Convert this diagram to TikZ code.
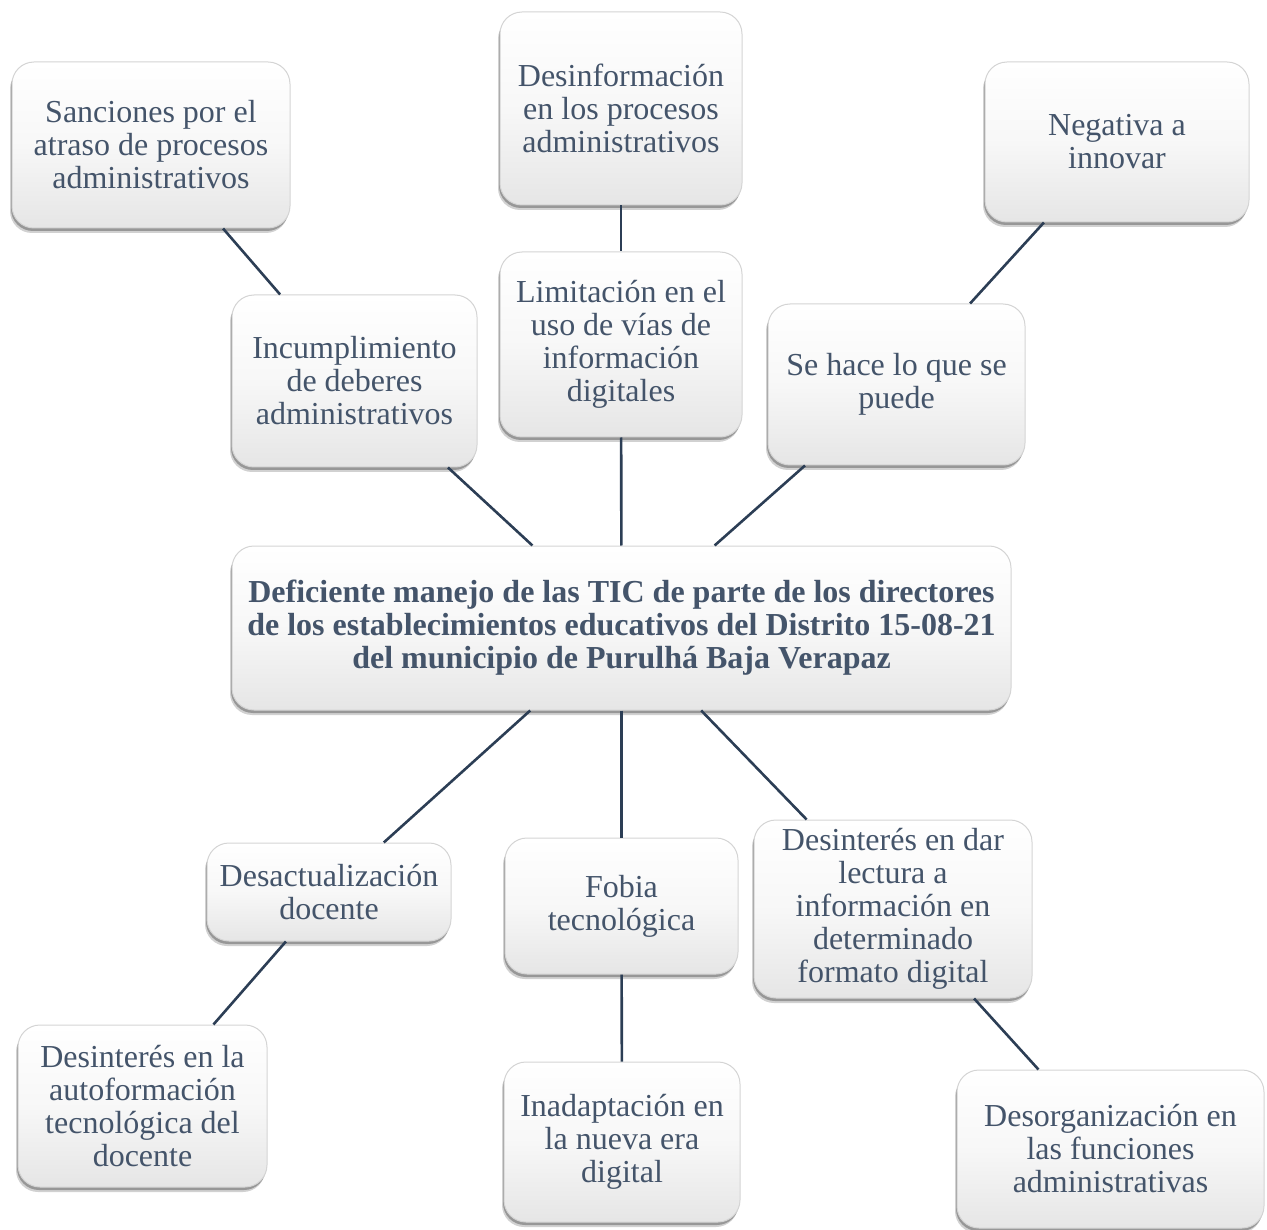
\documentclass[tikz,border=0pt]{standalone}
\usepackage{fontspec}
\setmainfont{Liberation Serif}
\usetikzlibrary{shadows}
\definecolor{txtc}{HTML}{44546A}
\definecolor{linec}{HTML}{2C3E55}
\definecolor{bordc}{HTML}{D4D4D4}
\tikzset{
  box/.style={draw=bordc, line width=1pt, rounded corners=22pt,
    top color=white, bottom color=black!10, middle color=white!97!black,
    drop shadow={shadow xshift=-2pt, shadow yshift=-5pt, opacity=0.18, fill=black},
    drop shadow={shadow xshift=-1pt, shadow yshift=-3pt, opacity=0.28, fill=black},
    text=txtc, align=center, inner sep=0pt,
    font=\fontsize{32}{33}\selectfont},
  conn/.style={draw=linec, line width=2.6pt}
}
\begin{document}
\begin{tikzpicture}[x=1pt,y=1pt]
\useasboundingbox (0,0) rectangle (1267,-1230);
% top row
\node[box, minimum width=278, minimum height=166] (sanc) at (151,-145) {Sanciones por el\\atraso de procesos\\administrativos};
\node[box, minimum width=242, minimum height=193] (desinf) at (621,-108.5) {Desinformación\\en los procesos\\administrativos};
\node[box, minimum width=264, minimum height=160] (neg) at (1117,-142) {Negativa a\\innovar};
% second row
\node[box, minimum width=245, minimum height=172] (incum) at (354.5,-381) {Incumplimiento\\de deberes\\administrativos};
\node[box, minimum width=242, minimum height=185] (limit) at (621,-344.5) {Limitación en el\\uso de vías de\\información\\digitales};
\node[box, minimum width=257, minimum height=161] (sehace) at (896.5,-384.5) {Se hace lo que se\\puede};
% central
\node[box, minimum width=779, minimum height=164, font=\fontsize{32}{33}\selectfont\bfseries] (central) at (621.5,-628) {Deficiente manejo de las TIC de parte de los directores\\de los establecimientos educativos del Distrito 15-08-21\\del municipio de Purulhá Baja Verapaz};
% lower row
\node[box, minimum width=244, minimum height=98] (desact) at (329,-892) {Desactualización\\docente};
\node[box, minimum width=233, minimum height=136] (fobia) at (621.5,-906) {Fobia\\tecnológica};
\node[box, minimum width=278, minimum height=178] (desdar) at (893,-909) {Desinterés en dar\\lectura a\\información en\\determinado\\formato digital};
% bottom row
\node[box, minimum width=249, minimum height=162] (autof) at (142.5,-1106) {Desinterés en la\\autoformación\\tecnológica del\\docente};
\node[box, minimum width=236, minimum height=160] (inad) at (622,-1142) {Inadaptación en\\la nueva era\\digital};
\node[box, minimum width=307, minimum height=158] (desorg) at (1110.5,-1149) {Desorganización en\\las funciones\\administrativas};
% connectors
\draw[conn] (sanc) -- (incum);
\draw[conn] (desinf) -- (limit);
\draw[conn] (neg) -- (sehace);
\draw[conn] (incum) -- (central);
\draw[conn] (limit) -- (central);
\draw[conn] (sehace) -- (central);
\draw[conn] (central) -- (desact);
\draw[conn] (central) -- (fobia);
\draw[conn] (central) -- (desdar);
\draw[conn] (desact) -- (autof);
\draw[conn] (fobia) -- (inad);
\draw[conn] (desdar) -- (desorg);
\end{tikzpicture}
\end{document}
